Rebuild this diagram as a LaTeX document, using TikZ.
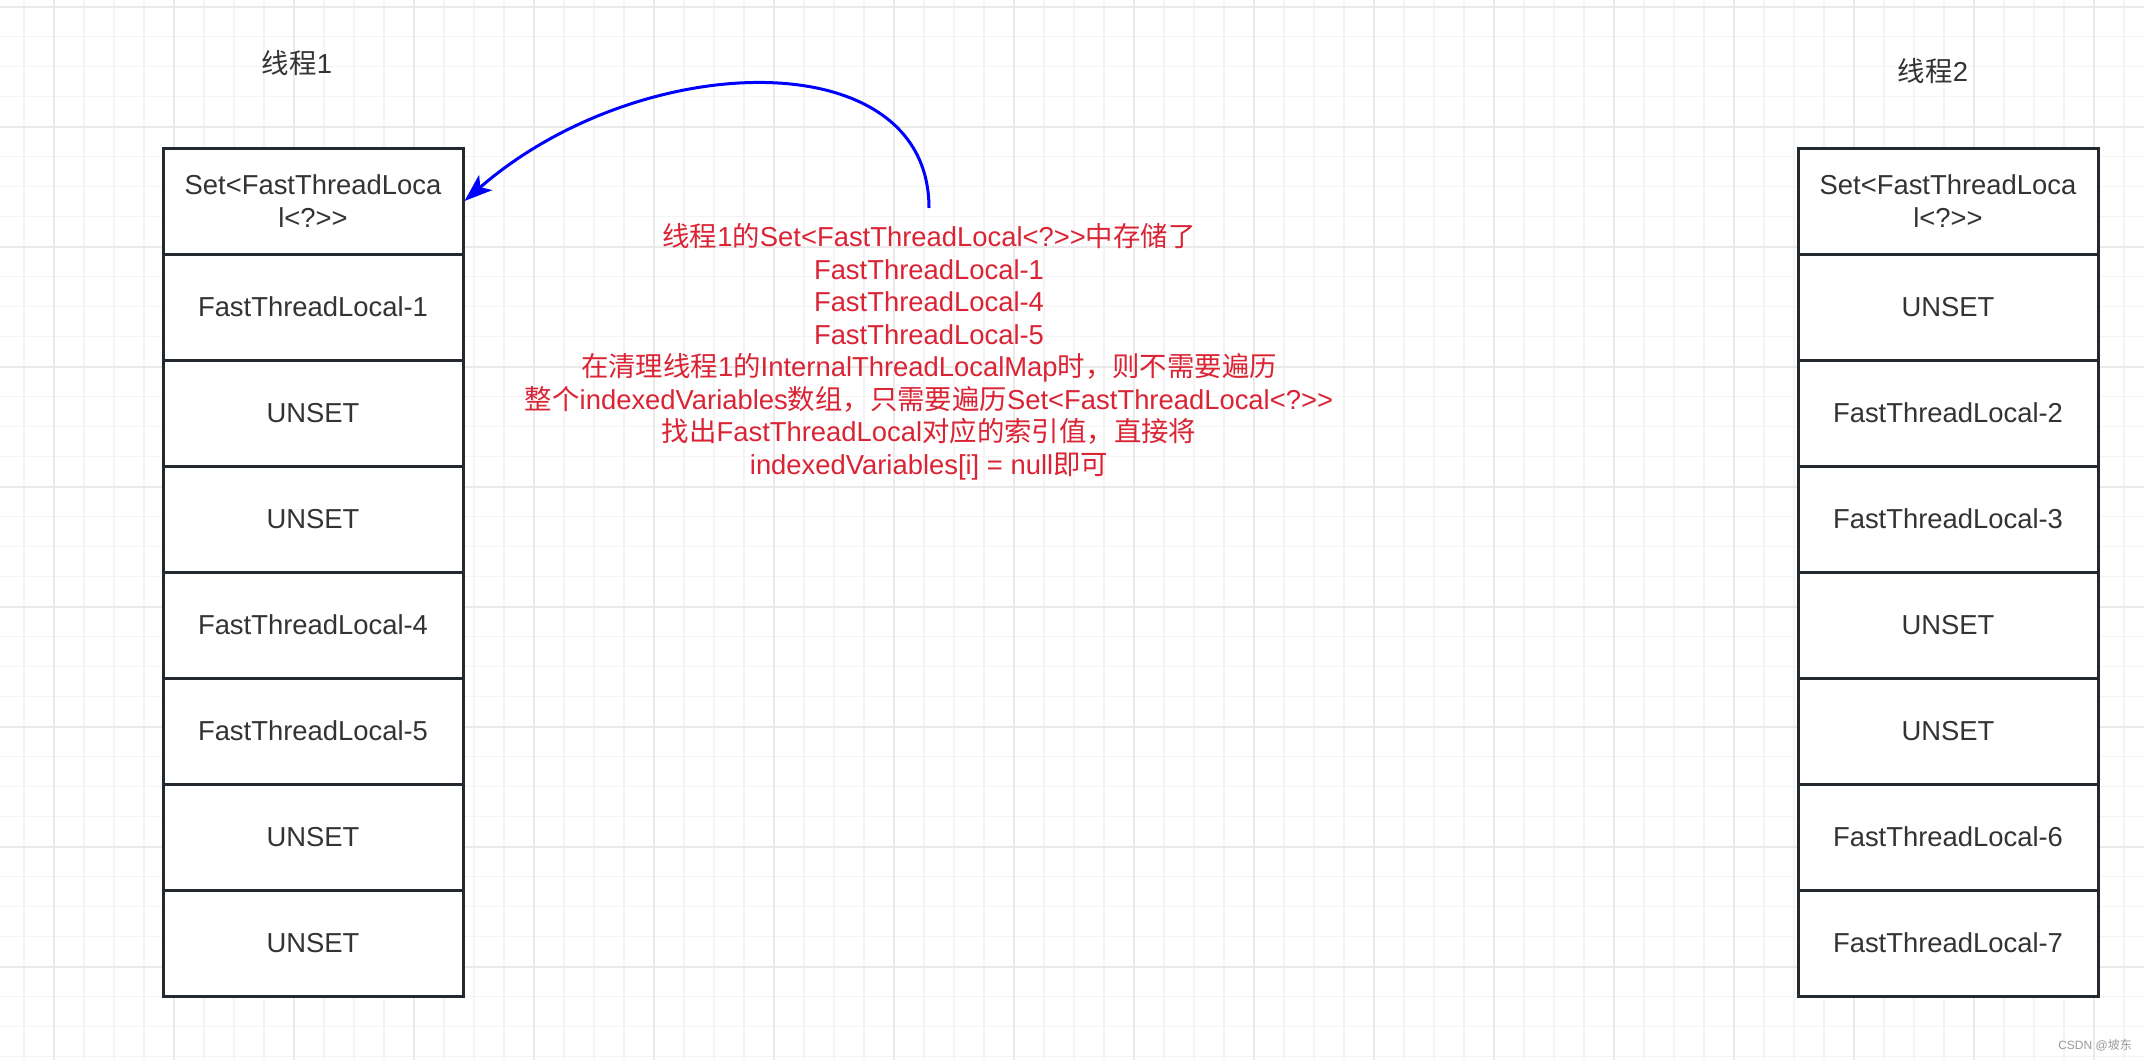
\documentclass[tikz,border=0pt]{standalone}
\usepackage{fontspec}
\setmainfont{Liberation Sans}[Ligatures=TeXOff]
\newfontfamily\cjk{Noto Sans CJK SC}
\usetikzlibrary{arrows.meta}
\definecolor{gridmin}{RGB}{244,244,244}
\definecolor{gridmaj}{RGB}{234,234,234}
\definecolor{cellline}{RGB}{35,41,47}
\definecolor{celltext}{RGB}{51,51,51}
\definecolor{notered}{RGB}{218,36,52}
\definecolor{linkblue}{RGB}{0,0,255}
\newcommand{\fnt}{\fontsize{13.7pt}{16.25pt}\selectfont}

\begin{document}
\begin{tikzpicture}[x=0.5pt, y=-0.5pt,
    minorline/.style={draw=gridmin, line width=0.75pt},
    majorline/.style={draw=gridmaj, line width=1pt},
    cell/.style={draw=cellline, line width=1.5pt, fill=white, minimum width=150pt,
        minimum height=53pt, inner sep=0pt, align=center, text=celltext, font=\fnt},
    title/.style={text=celltext, inner sep=0pt, font=\fnt},
    note/.style={text=notered, align=center, inner sep=0pt, font=\fnt},
    link/.style={draw=linkblue, line width=1.5pt, -{Stealth[length=14pt,width=10pt,inset=3.5pt]}}]
    % page and background grid
    \fill[white] (0,0) rectangle (2144,1060);
    \useasboundingbox (0,0) rectangle (2144,1060);
    \foreach \x in {24,54,...,2144} \draw[minorline] (\x,0) -- (\x,1060);
    \foreach \y in {6.7,36.7,...,1060} \draw[minorline] (0,\y) -- (2144,\y);
    \foreach \x in {54,174,...,2144} \draw[majorline] (\x,0) -- (\x,1060);
    \foreach \y in {6.7,126.7,...,1060} \draw[majorline] (0,\y) -- (2144,\y);
    % thread 1, 8 cells
    \node[title] (head1) at (297,63) {{\cjk 线程}1};
    \foreach \txt [count=\i from 0] in {{Set<FastThreadLoca\\l<?>>}, FastThreadLocal-1, UNSET, UNSET,
        FastThreadLocal-4, FastThreadLocal-5, UNSET, UNSET}
        \node[cell] (a\i) at (313,201+106*\i) {\txt};
    % thread 2, 8 cells
    \node[title] (head2) at (1933,71) {{\cjk 线程}2};
    \foreach \txt [count=\i from 0] in {{Set<FastThreadLoca\\l<?>>}, UNSET, FastThreadLocal-2, FastThreadLocal-3,
        UNSET, UNSET, FastThreadLocal-6, FastThreadLocal-7}
        \node[cell] (b\i) at (1948,201+106*\i) {\txt};
    % red note
    \node[note] (info) at (929,352) {{\cjk 线程}1{\cjk 的}Set<FastThreadLocal<?>>{\cjk 中存储了}\\
        FastThreadLocal-1\\
        FastThreadLocal-4\\
        FastThreadLocal-5\\
        {\cjk 在清理线程}1{\cjk 的}InternalThreadLocalMap{\cjk 时，则不需要遍历}\\
        {\cjk 整个}indexedVariables{\cjk 数组，只需要遍历}Set<FastThreadLocal<?>>\\
        {\cjk 找出}FastThreadLocal{\cjk 对应的索引值，直接将}\\
        indexedVariables[i] = null{\cjk 即可}};
    % arrow from note to the set of thread 1
    \coordinate (src) at (929,208);
    \draw[link] (src) .. controls (929,40) and (640,48) .. (a0.east);
    % watermark
    \node[text=black!40, inner sep=0pt, font=\fontsize{6pt}{7pt}\selectfont] (mark) at (2095,1045) {CSDN @{\cjk 坡东}};
\end{tikzpicture}
\end{document}
